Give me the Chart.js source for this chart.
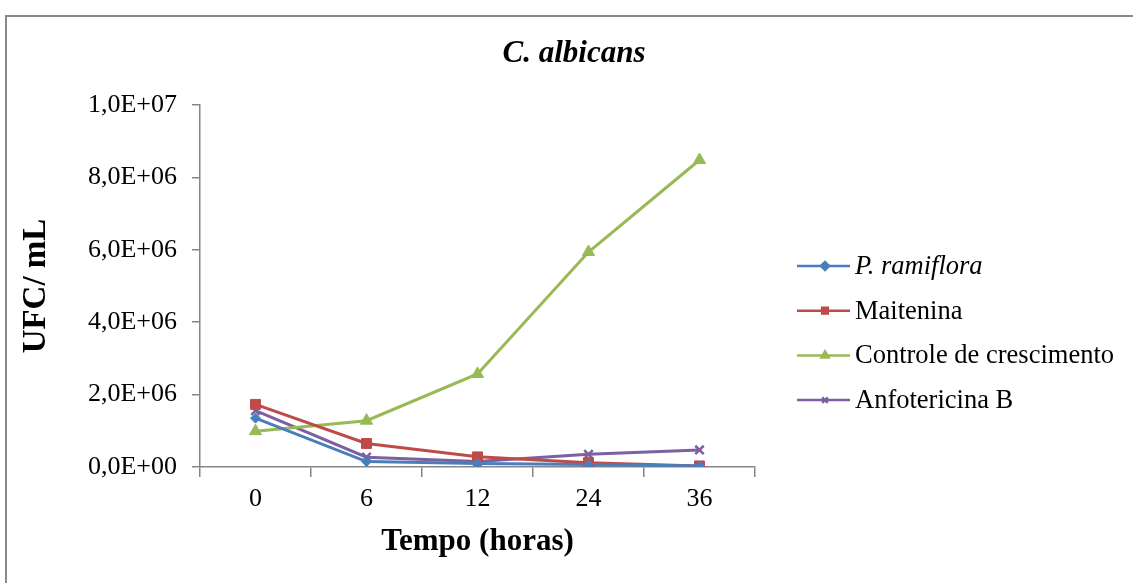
<!DOCTYPE html>
<html>
<head>
<meta charset="utf-8">
<script src="https://cdn.jsdelivr.net/npm/chart.js@4/dist/chart.umd.min.js"></script>
<style>
  html, body { margin: 0; padding: 0; background: #fff; overflow: hidden; }
  #wrap { position: relative; width: 1133px; height: 583px; overflow: hidden; }
  #frame { position: absolute; left: 5px; top: 15px; width: 1200px; height: 700px; border: 2px solid #8a8a8a; box-sizing: border-box; }
  #albicans { position: absolute; left: 0; top: 0; }
</style>
</head>
<body>
<div id="wrap">
  <div id="frame"></div>
  <canvas id="albicans" width="1133" height="583"></canvas>
</div>
<script>
// tempo (horas)
var categories = ["0", "6", "12", "24", "36"];
var seriesNames = ["P. ramiflora", "Maitenina", "Controle de crescimento", "Anfotericina B"];
// UFC/mL
var ramiflora = [1.35e6, 0.15e6, 0.10e6, 0.07e6, 0.03e6];
var maitenina = [1.73e6, 0.65e6, 0.28e6, 0.12e6, 0.03e6];
var controle = [0.99e6, 1.28e6, 2.57e6, 5.94e6, 8.48e6];
var anfotericina = [1.56e6, 0.27e6, 0.15e6, 0.35e6, 0.47e6];
var yTicks = [0, 2e6, 4e6, 6e6, 8e6, 1e7];

var serif = "'Liberation Serif', 'Times New Roman', serif";
var axisGray = '#868686';

// formato Excel: 2,0E+06
var sciLabel = (v) => {
  if (v === 0) return "0,0E+00";
  var e = Math.floor(Math.log10(v));
  var m = (v / Math.pow(10, e)).toFixed(1).replace('.', ',');
  return m + "E+" + (e < 10 ? "0" + e : e);
}

var mk = (label, data, color, style, radius) => ({
  label: label,
  data: data,
  borderColor: color,
  backgroundColor: color,
  borderWidth: 3,
  pointStyle: style,
  pointRadius: radius,
  pointBorderWidth: style === 'crossRot' ? 2.5 : 1,
  tension: 0
});

// titulo centrado na figura toda (o plugin title centra so no layout)
var topTitle = {
  id: 'topTitle',
  afterDraw(chart) {
    var ctx = chart.ctx;
    ctx.save();
    ctx.fillStyle = '#000';
    ctx.font = 'italic bold 31px ' + serif;
    ctx.textAlign = 'center';
    ctx.textBaseline = 'middle';
    ctx.fillText('C. albicans', 574, 54);
    ctx.restore();
  }
};

// legenda desenhada a direita, como no Excel
var sideLegend = {
  id: 'sideLegend',
  afterDraw(chart) {
    var ctx = chart.ctx;
    ctx.save();
    chart.data.datasets.forEach((ds, i) => {
      var y = 266 + i * 44.7;
      ctx.strokeStyle = ds.borderColor;
      ctx.lineWidth = 2.5;
      ctx.beginPath();
      ctx.moveTo(797, y);
      ctx.lineTo(850, y);
      ctx.stroke();
      Chart.helpers.drawPoint(ctx, {
        pointStyle: ds.pointStyle,
        radius: 4,
        borderWidth: 1.5,
        rotation: 0
      }, 825, y);
      ctx.fillStyle = ds.borderColor;
      ctx.fill();
      ctx.fillStyle = '#000';
      ctx.textBaseline = 'middle';
      ctx.textAlign = 'left';
      ctx.font = (i === 0 ? 'italic ' : '') + '26.5px ' + serif;
      ctx.fillText(ds.label, 855, y + 1);
    });
    ctx.restore();
  }
};

var ctx = document.getElementById("albicans").getContext("2d");
var chart = new Chart(ctx, {
  type: 'line',
  data: {
    labels: categories,
    datasets: [
      mk(seriesNames[0], ramiflora, '#4A7EBB', 'rectRot', 5),
      mk(seriesNames[1], maitenina, '#BE4B48', 'rect', 7),
      mk(seriesNames[2], controle, '#98B954', 'triangle', 7),
      mk(seriesNames[3], anfotericina, '#7D60A0', 'crossRot', 6)
    ]
  },
  options: {
    responsive: false,
    animation: false,
    layout: { padding: { left: 0, right: 378, top: 105, bottom: 0 } },
    plugins: {
      legend: { display: false },
      tooltip: { enabled: false },
      title: { display: false }
    },
    scales: {
      x: {
        type: 'category',
        offset: true,
        afterFit: (s) => { s.height = 116; },
        grid: { offset: true, drawOnChartArea: false, tickLength: 10, color: axisGray, lineWidth: 1.5 },
        border: { color: axisGray, width: 1.5 },
        ticks: { color: '#000', padding: 7, font: { family: serif, size: 26 }, maxRotation: 0 },
        title: {
          display: true,
          text: 'Tempo (horas)',
          color: '#000',
          font: { family: serif, size: 31, weight: 'bold' },
          padding: { top: 0, bottom: 22 }
        }
      },
      y: {
        min: 0,
        max: 1e7,
        afterFit: (s) => { s.width = 200; },
        afterBuildTicks: (s) => { s.ticks = yTicks.map(v => ({ value: v })); },
        grid: { drawOnChartArea: false, tickLength: 8, color: axisGray, lineWidth: 1.5 },
        border: { color: axisGray, width: 1.5 },
        ticks: {
          color: '#000',
          padding: 15,
          font: { family: serif, size: 26 },
          callback: (v) => sciLabel(v)
        },
        title: {
          display: true,
          text: 'UFC/ mL',
          color: '#000',
          font: { family: serif, size: 33, weight: 'bold' },
          padding: { top: 17, bottom: 0 }
        }
      }
    }
  },
  plugins: [topTitle, sideLegend]
});
</script>
</body>
</html>
